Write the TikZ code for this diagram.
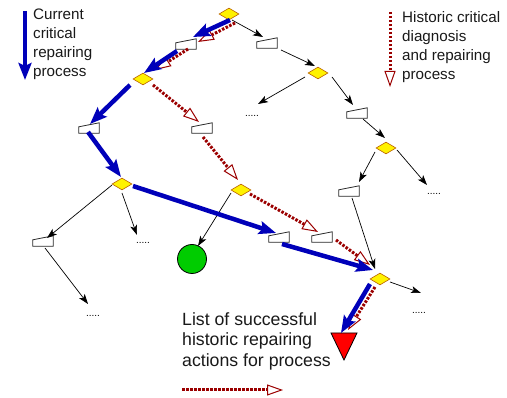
\documentclass[tikz,border=0pt]{standalone}
\usepackage{fontspec}
\setmainfont{Liberation Sans}
\usetikzlibrary{arrows.meta,shapes.geometric,calc}
\definecolor{curblue}{RGB}{0,0,185}
\definecolor{histred}{RGB}{155,0,0}
\definecolor{diaborder}{RGB}{185,95,0}
\definecolor{dgreen}{RGB}{0,204,0}
\definecolor{boxborder}{RGB}{40,40,40}
\newcommand\mibox[2]{%
  \node[miboxnode] (#1) at (#2) {};
  \draw[mishape] (#1.south west) -- (#1.south east) -- (#1.north east) -- ([yshift=-4pt]#1.north west) -- cycle;}
\begin{document}
\begin{tikzpicture}[x=1pt,y=-1pt,
  dia/.style={diamond,draw=diaborder,fill=yellow,line width=0.6pt,minimum width=20pt,minimum height=12pt,inner sep=0pt},
  miboxnode/.style={rectangle,minimum width=20pt,minimum height=10pt,inner sep=0pt},
  mishape/.style={draw=boxborder,fill=white,line width=0.8pt,line join=miter},
  dots/.style={font=\fontsize{10}{12}\selectfont,inner sep=0pt},
  thin/.style={black,line width=0.7pt,-{Stealth[length=10pt,width=7pt,inset=2.5pt]}},
  cur/.style={curblue,line width=4.5pt,-{Stealth[length=17pt,width=13pt,inset=3pt]}},
  hist/.style={histred,line width=3pt,dash pattern=on 2.5pt off 1.5pt,-{Triangle[length=16pt,width=11pt,line width=1pt,fill=white]}},
  legtext/.style={font=\fontsize{15.2}{19}\selectfont,align=left,anchor=north west,inner sep=0pt,text=black!90},
  bigtext/.style={font=\fontsize{17.7}{20.5}\selectfont,align=left,anchor=north west,inner sep=0pt,text=black!90}]
\useasboundingbox (0,0) rectangle (507,398);

% diamonds
\node[dia] (D1) at (229,14) {};
\node[dia] (D2) at (143,79) {};
\node[dia] (D3) at (318,73) {};
\node[dia] (D4) at (386,148) {};
\node[dia] (D5) at (122,184) {};
\node[dia] (D6) at (241,190) {};
\node[dia] (D7) at (380,279) {};

% manual-input boxes
\mibox{R1}{186,44}
\mibox{R2}{267,43}
\mibox{R3}{89,128}
\mibox{R4}{202,128}
\mibox{R5}{357,113}
\mibox{R6}{349,191}
\mibox{R7}{43,241}
\mibox{R8}{279,237}
\mibox{R9}{322,237}

% end shapes
\node[circle,draw=black,fill=dgreen,line width=0.8pt,minimum size=29pt,inner sep=0pt] (C) at (192,259) {};
\coordinate (T) at (344,333);
\filldraw[fill=red,draw=black,line width=0.8pt,line join=miter] ($(T)+(-13,0)$) -- ($(T)+(13,0)$) -- ($(T)+(0,27)$) -- cycle;

% dots
\node[dots] (E1) at (252,116) {.....};
\node[dots] (E2) at (434,194) {.....};
\node[dots] (E3) at (419,313) {.....};
\node[dots] (E4) at (143,243) {.....};
\node[dots] (E5) at (93,316) {.....};

% thin black arrows
\draw[thin] ($(D1)+(3,6)$) -- ($(R2)+(-4,-6)$);
\draw[thin] ($(R2)+(14,7)$) -- ($(D3)+(-3,-7)$);
\draw[thin] ($(D3)+(-13,4)$) -- ($(E1)+(6,-12)$);
\draw[thin] ($(D3)+(14,4)$) -- ($(R5)+(-4,-8)$);
\draw[thin] ($(R5)+(6,6)$) -- ($(D4)+(-1,-10)$);
\draw[thin] ($(D4)+(-11,4)$) -- ($(R6)+(10,-9)$);
\draw[thin] ($(D4)+(11,2)$) -- ($(E2)+(-7,-9)$);
\draw[thin] ($(R6)+(3,7)$) -- ($(D7)+(-5,-10)$);
\draw[thin] ($(D7)+(10,3)$) -- ($(E3)+(2,-20)$);
\draw[thin] ($(D5)+(-10,1)$) -- ($(R7)+(4,-3)$);
\draw[thin] ($(D5)+(0,9)$) -- ($(E4)+(-6,-8)$);
\draw[thin] ($(R7)+(2,7)$) -- ($(E5)+(-5,-12)$);
\draw[thin] ($(D6)+(-10,3)$) -- ($(C)+(6,-13)$);

% historic (red dotted) arrows
\draw[hist] ($(D1)+(6,9)$) -- ($(R1)+(12,-2)$);
\draw[hist] ($(R1)+(2,5)$) -- ($(D2)+(12,-9)$);
\draw[hist] ($(D2)+(10,6)$) -- ($(R4)+(-3,-6)$);
\draw[hist] ($(R4)+(1,9)$) -- ($(D6)+(-3,-10)$);
\draw[hist] ($(D6)+(9,4)$) -- ($(R9)+(-4,-5)$);
\draw[hist] ($(R9)+(14,3)$) -- ($(D7)+(-10,-14)$);
\draw[hist] ($(D7)+(-5,8)$) -- ($(T)+(4,-3)$);

% current (blue) arrows
\draw[cur] ($(D1)+(1,6)$) -- ($(R1)+(7,-7)$);
\draw[cur] ($(R1)+(-9,7)$) -- ($(D2)+(1,-6)$);
\draw[cur] ($(D2)+(-13,6)$) -- ($(R3)+(1,-4)$);
\draw[cur] ($(R3)+(-1,4)$) -- ($(D5)+(-1,-7)$);
\draw[cur] ($(D5)+(11,2)$) -- ($(R8)+(-3,-4)$);
\draw[cur] ($(R8)+(3,7)$) -- ($(D7)+(-7,-9)$);
\draw[cur] ($(D7)+(-10,5)$) -- ($(T)+(-3,0)$);

% legends
\coordinate (LB1) at (25,11);
\coordinate (LB2) at (25,80);
\draw[cur] (LB1) -- (LB2);
\node[legtext] (LBT) at (33,8.5) {Current\\critical\\repairing\\process};

\coordinate (LR1) at (390,12);
\coordinate (LR2) at (390,87);
\draw[hist] (LR1) -- (LR2);
\node[legtext] (LRT) at (402,11.5) {Historic critical\\diagnosis\\and repairing\\process};

\node[bigtext] (LST) at (182,312) {List of successful\\historic repairing\\actions for process};
\coordinate (LL1) at (182,390);
\coordinate (LL2) at (283,390);
\draw[hist] (LL1) -- (LL2);
\end{tikzpicture}
\end{document}
